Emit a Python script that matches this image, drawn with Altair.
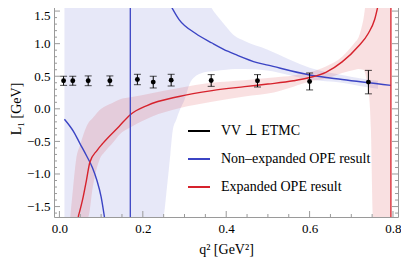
import altair as alt
import pandas as pd

# ---------------- data ----------------
# lattice points (VV ⊥ ETMC)
q2_data = [0.010, 0.032, 0.069, 0.121, 0.187, 0.225, 0.268, 0.364, 0.475, 0.600, 0.741]
L1_data = [0.43, 0.43, 0.43, 0.43, 0.45, 0.41, 0.44, 0.435, 0.43, 0.42, 0.41]
L1_err = [0.07, 0.07, 0.075, 0.075, 0.08, 0.09, 0.09, 0.09, 0.095, 0.13, 0.18]

# non-expanded OPE result (blue), two branches around the pole
blue_left_x = [0.012, 0.034, 0.049, 0.065, 0.079, 0.090, 0.100, 0.108]
blue_left_y = [-0.16, -0.35, -0.53, -0.72, -0.90, -1.10, -1.35, -1.66]
blue_right_x = [0.260, 0.287, 0.326, 0.366, 0.405, 0.420, 0.474, 0.500, 0.600, 0.678, 0.795]
blue_right_y = [1.67, 1.37, 1.16, 1.01, 0.88, 0.84, 0.71, 0.67, 0.52, 0.45, 0.36]

# expanded OPE result (red)
red_x = [0.045, 0.057, 0.065, 0.073, 0.090, 0.104, 0.143, 0.170, 0.210, 0.287, 0.366,
         0.444, 0.500, 0.561, 0.600, 0.639, 0.678, 0.717, 0.741, 0.756, 0.767]
red_y = [-1.66, -1.35, -1.09, -0.82, -0.64, -0.53, -0.27, -0.09, 0.05, 0.19, 0.28,
         0.34, 0.38, 0.43, 0.48, 0.56, 0.72, 0.96, 1.16, 1.37, 1.67]

# pole positions (vertical jumps)
blue_pole_x = [0.170]
red_pole_x = [0.795]

# blue uncertainty band
blue_band_left_x = [0.012, 0.170]
blue_band_left_lo = [-1.66, -1.66]
blue_band_left_hi = [1.67, 1.67]
blue_band_right_x = [0.170, 0.249, 0.258, 0.266, 0.272, 0.280, 0.290, 0.300, 0.315, 0.342,
                     0.348, 0.373, 0.400, 0.420, 0.444, 0.498, 0.550, 0.600, 0.678, 0.720, 0.764]
blue_band_right_lo = [-1.66, -1.66, -1.20, -0.70, -0.32, -0.17, 0.00, 0.14, 0.42, 0.55,
                      0.56, 0.58, 0.60, 0.61, 0.61, 0.59, 0.52, 0.45, 0.40, 0.35, 0.31]
blue_band_right_hi = [1.67, 1.67, 1.67, 1.67, 1.67, 1.67, 1.67, 1.67, 1.67, 1.67,
                      1.67, 1.47, 1.26, 1.12, 1.04, 0.91, 0.76, 0.63, 0.52, 0.47, 0.43]

# red uncertainty band
red_band_x = [0.026, 0.033, 0.040, 0.050, 0.065, 0.069, 0.080, 0.096, 0.110, 0.127, 0.143,
              0.174, 0.221, 0.287, 0.366, 0.444, 0.514, 0.561, 0.600, 0.639, 0.678, 0.709,
              0.717, 0.729, 0.737, 0.744, 0.747, 0.752, 0.795]
red_band_lo = [-1.66, -1.66, -1.66, -1.66, -1.66, -1.66, -1.20, -0.78, -0.65, -0.53, -0.40,
               -0.27, -0.12, 0.01, 0.11, 0.19, 0.25, 0.34, 0.42, 0.46, 0.55, 0.60,
               0.61, 0.60, 0.44, 0.09, -0.32, -1.66, -1.66]
red_band_hi = [-1.66, -1.20, -0.78, -0.55, -0.27, -0.22, -0.14, -0.02, 0.04, 0.09, 0.14,
               0.18, 0.24, 0.32, 0.40, 0.44, 0.48, 0.51, 0.56, 0.65, 0.80, 1.02,
               1.09, 1.37, 1.67, 1.67, 1.67, 1.67, 1.67]

# axis ticks
x_major = [0.0, 0.2, 0.4, 0.6, 0.8]
x_minor = [0.05, 0.1, 0.15, 0.25, 0.3, 0.35, 0.45, 0.5, 0.55, 0.65, 0.7, 0.75]
y_major = [-1.5, -1.0, -0.5, 0.0, 0.5, 1.0, 1.5]
y_minor = [-1.6, -1.4, -1.3, -1.2, -1.1, -0.9, -0.8, -0.7, -0.6, -0.4, -0.3, -0.2, -0.1,
           0.1, 0.2, 0.3, 0.4, 0.6, 0.7, 0.8, 0.9, 1.1, 1.2, 1.3, 1.4, 1.6]

legend_labels = ["VV ⊥ ETMC", "Non–expanded OPE result", "Expanded OPE result"]

# ---------------- styling ----------------
BLUE = "#3b44c4"
RED = "#d6222c"
FRAME = "#9a9a9a"
SERIF = "Liberation Serif, Tinos, 'Times New Roman', 'DejaVu Serif', serif"
W, H = 344, 217

xs = alt.Scale(domain=[-0.013, 0.812], nice=False, zero=False)
ys = alt.Scale(domain=[-1.66, 1.67], nice=False, zero=False)

xaxis = alt.Axis(values=x_major, format=".1f", title="q² [GeV²]", grid=False, ticks=False,
                 tickSize=0, domain=False, labelFlush=False, labelFont=SERIF, labelFontSize=13,
                 labelColor="black", labelPadding=5, titleFont=SERIF, titleFontSize=14,
                 titleFontWeight="normal", titleColor="black", titlePadding=7)
yaxis = alt.Axis(values=y_major, format=".1f", title="L₁ [GeV]", grid=False, ticks=False,
                 tickSize=0, domain=False, labelFlush=False, labelFont=SERIF, labelFontSize=13,
                 labelColor="black", labelPadding=4, titleFont=SERIF, titleFontSize=14,
                 titleFontWeight="normal", titleColor="black", titlePadding=3,
                 labelOffset={"condition": {"test": "datum.value > 1.4", "value": 4}, "value": 0})


def X(f):
    return alt.X(f, type="quantitative", scale=xs, axis=xaxis)


def Y(f):
    return alt.Y(f, type="quantitative", scale=ys, axis=yaxis)


# ---------------- tables ----------------
pts = pd.DataFrame({"x": q2_data, "y": L1_data,
                    "lo": [v - e for v, e in zip(L1_data, L1_err)],
                    "hi": [v + e for v, e in zip(L1_data, L1_err)]})

curves = pd.concat([
    pd.DataFrame({"x": blue_left_x, "y": blue_left_y, "series": legend_labels[1], "branch": "bL"}),
    pd.DataFrame({"x": blue_right_x, "y": blue_right_y, "series": legend_labels[1], "branch": "bR"}),
    pd.DataFrame({"x": red_x, "y": red_y, "series": legend_labels[2], "branch": "r"}),
], ignore_index=True)

blue_band = pd.concat([
    pd.DataFrame({"x": blue_band_left_x, "lo": blue_band_left_lo, "hi": blue_band_left_hi, "seg": "L"}),
    pd.DataFrame({"x": blue_band_right_x, "lo": blue_band_right_lo, "hi": blue_band_right_hi, "seg": "R"}),
], ignore_index=True)
red_band = pd.DataFrame({"x": red_band_x, "lo": red_band_lo, "hi": red_band_hi})

# ---------------- layers ----------------
blue_area = alt.Chart(blue_band).mark_area(color=BLUE, opacity=0.12, interpolate="monotone", clip=True).encode(
    x=X("x"), y=Y("lo"), y2="hi", detail="seg:N")
red_area = alt.Chart(red_band).mark_area(color=RED, opacity=0.14, interpolate="monotone", clip=True).encode(
    x=X("x"), y=Y("lo"), y2="hi")

lines = alt.Chart(curves).mark_line(strokeWidth=1.4, interpolate="monotone", clip=True).encode(
    x=X("x"), y=Y("y"), detail="branch:N",
    color=alt.Color("series:N",
                    scale=alt.Scale(domain=legend_labels, range=["black", BLUE, RED]),
                    legend=alt.Legend(title=None, orient="none", legendX=133, legendY=119,
                                      symbolType="stroke", symbolSize=484, symbolStrokeWidth=2,
                                      labelFont=SERIF, labelFontSize=14, labelColor="black",
                                      labelOffset=10, labelLimit=400, rowPadding=9, padding=0)))

blue_pole = alt.Chart(pd.DataFrame({"x": blue_pole_x})).mark_rule(color=BLUE, strokeWidth=1.3).encode(x=X("x"))
red_pole = alt.Chart(pd.DataFrame({"x": red_pole_x})).mark_rule(color=RED, strokeWidth=1.3).encode(x=X("x"))

err = alt.Chart(pts).mark_rule(color="black", strokeWidth=1).encode(x=X("x"), y=Y("lo"), y2="hi")
cap_lo = alt.Chart(pts).mark_tick(color="black", orient="horizontal", size=7, thickness=1).encode(x=X("x"), y=Y("lo"))
cap_hi = alt.Chart(pts).mark_tick(color="black", orient="horizontal", size=7, thickness=1).encode(x=X("x"), y=Y("hi"))
dots = alt.Chart(pts).mark_circle(color="black", size=24, opacity=1).encode(x=X("x"), y=Y("y"))

xmaj = pd.DataFrame({"x": x_major})
xmin = pd.DataFrame({"x": x_minor})
ymaj = pd.DataFrame({"y": y_major})
ymin = pd.DataFrame({"y": y_minor})


def xt(df, y0, y1):
    return alt.Chart(df).mark_rule(color=FRAME, strokeWidth=1).encode(
        x=X("x"), y=alt.value(y0), y2=alt.value(y1))


def yt(df, x0, x1):
    return alt.Chart(df).mark_rule(color=FRAME, strokeWidth=1).encode(
        y=Y("y"), x=alt.value(x0), x2=alt.value(x1))


ticks = [
    xt(xmaj, H, H - 6), xt(xmin, H, H - 3), xt(xmaj, 0, 6), xt(xmin, 0, 3),
    yt(ymaj, 0, 6), yt(ymin, 0, 3), yt(ymaj, W, W - 6), yt(ymin, W, W - 3),
]

chart = alt.layer(
    blue_area, red_area, lines, blue_pole, red_pole, err, cap_lo, cap_hi, dots, *ticks
).properties(
    width=W, height=H,
    autosize=alt.AutoSizeParams(type="none"),
    padding={"left": 46, "top": -8, "right": 3, "bottom": 47},
).configure_view(stroke=FRAME, strokeWidth=1)

chart.save("out.html", embed_options={"renderer": "svg", "actions": False})
